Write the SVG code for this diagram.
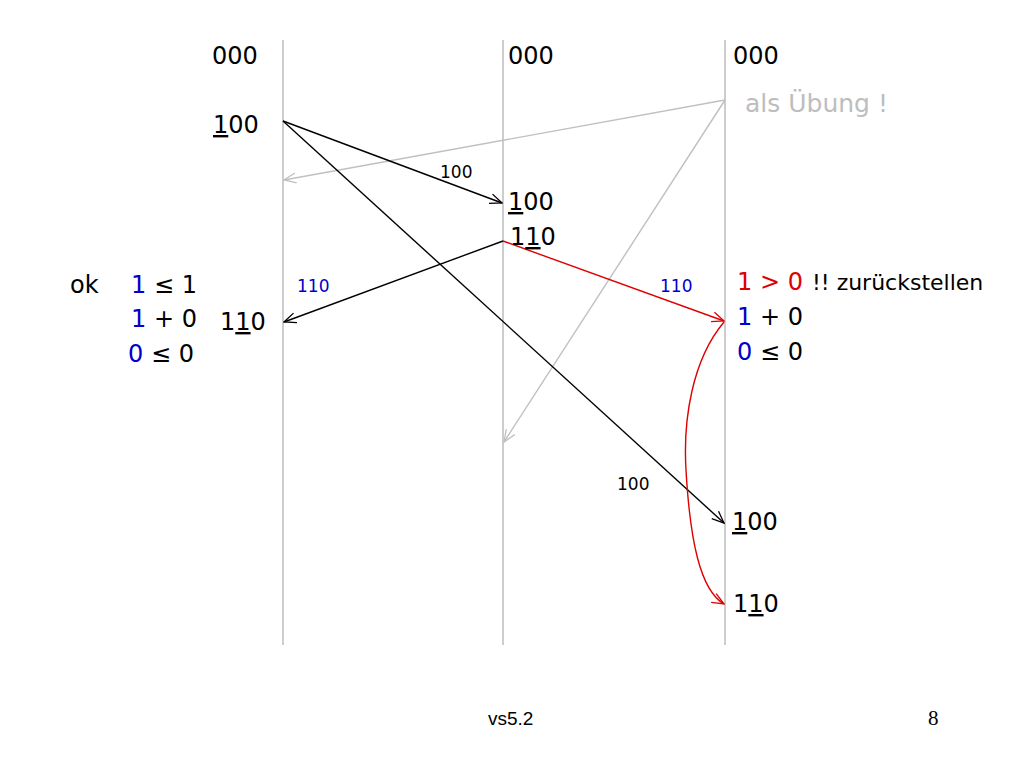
<svg xmlns="http://www.w3.org/2000/svg" width="1024" height="768" viewBox="0 0 1024 768">
<defs>
<marker id="ab" markerWidth="14" markerHeight="12" refX="13" refY="6" orient="auto" markerUnits="userSpaceOnUse"><path d="M1,1 L13,6 L1,11" fill="none" stroke="#000" stroke-width="1.3"/></marker>
<marker id="ar" markerWidth="14" markerHeight="12" refX="13" refY="6" orient="auto" markerUnits="userSpaceOnUse"><path d="M1,1 L13,6 L1,11" fill="none" stroke="#e00000" stroke-width="1.3"/></marker>
<marker id="ag" markerWidth="14" markerHeight="12" refX="13" refY="6" orient="auto" markerUnits="userSpaceOnUse"><path d="M1,1 L13,6 L1,11" fill="none" stroke="#c0c0c0" stroke-width="1.3"/></marker>
</defs>
<style>
text{font-family:"DejaVu Sans","Open Sans",sans-serif;font-size:24px;fill:#000}
.s{font-size:17px}
.b{fill:#0000cc}
.r{fill:#e00000}
.g{fill:#bdbdbd}
.u{text-decoration:underline}
.life{stroke:#bdbdbd;stroke-width:1.5}
</style>
<rect width="1024" height="768" fill="#fff"/>
<g id="lifelines">
<line class="life" x1="283" y1="40" x2="283" y2="645"/>
<line class="life" x1="503" y1="40" x2="503" y2="645"/>
<line class="life" x1="725" y1="40" x2="725" y2="645"/>
</g>
<g id="connectors" fill="none" stroke-width="1.4">
<line x1="725" y1="100" x2="284" y2="180" stroke="#c0c0c0" marker-end="url(#ag)"/>
<line x1="725" y1="100" x2="504" y2="442" stroke="#c0c0c0" marker-end="url(#ag)"/>
<line x1="283" y1="121" x2="502" y2="203" stroke="#000" marker-end="url(#ab)"/>
<line x1="283" y1="121" x2="724" y2="523" stroke="#000" marker-end="url(#ab)"/>
<line x1="503" y1="241" x2="284" y2="322" stroke="#000" marker-end="url(#ab)"/>
<line x1="503" y1="241" x2="724" y2="321" stroke="#e00000" marker-end="url(#ar)"/>
<path d="M724,322 C692,360 683,420 686,470 C690,540 700,590 724,604" stroke="#e00000" marker-end="url(#ar)"/>
</g>
<g id="p1">
<text x="212" y="64">000</text>
<text x="213" y="133"><tspan class="u">1</tspan>00</text>
<text x="220" y="330">1<tspan class="u">1</tspan>0</text>
<text x="70" y="293">ok</text>
<text x="131" y="293"><tspan class="b">1</tspan> ≤ 1</text>
<text x="131" y="327"><tspan class="b">1</tspan> + 0</text>
<text x="128" y="362"><tspan class="b">0</tspan> ≤ 0</text>
</g>
<g id="p2">
<text x="508" y="64">000</text>
<text x="508" y="210"><tspan class="u">1</tspan>00</text>
<text x="510" y="245">1<tspan class="u">1</tspan>0</text>
</g>
<g id="p3">
<text x="733" y="64">000</text>
<text class="g" x="745" y="112" style="font-size:25px">als Übung !</text>
<text x="737" y="290"><tspan class="r">1 &gt; 0</tspan></text>
<text x="812" y="290" style="font-size:22px">!! zurückstellen</text>
<text x="737" y="325"><tspan class="b">1</tspan> + 0</text>
<text x="737" y="360"><tspan class="b">0</tspan> ≤ 0</text>
<text x="732" y="530"><tspan class="u">1</tspan>00</text>
<text x="733" y="612">1<tspan class="u">1</tspan>0</text>
</g>
<g id="labels">
<text class="s" x="440" y="178">100</text>
<text class="s b" x="297" y="292">110</text>
<text class="s b" x="660" y="292">110</text>
<text class="s" x="617" y="490">100</text>
</g>
<g id="footer">
<text x="488" y="725" style="font-family:'Liberation Sans',Arial,sans-serif;font-size:19px">vs5.2</text>
<text x="928" y="725" style="font-family:'Liberation Serif','Times New Roman',serif;font-size:21px">8</text>
</g>
</svg>
